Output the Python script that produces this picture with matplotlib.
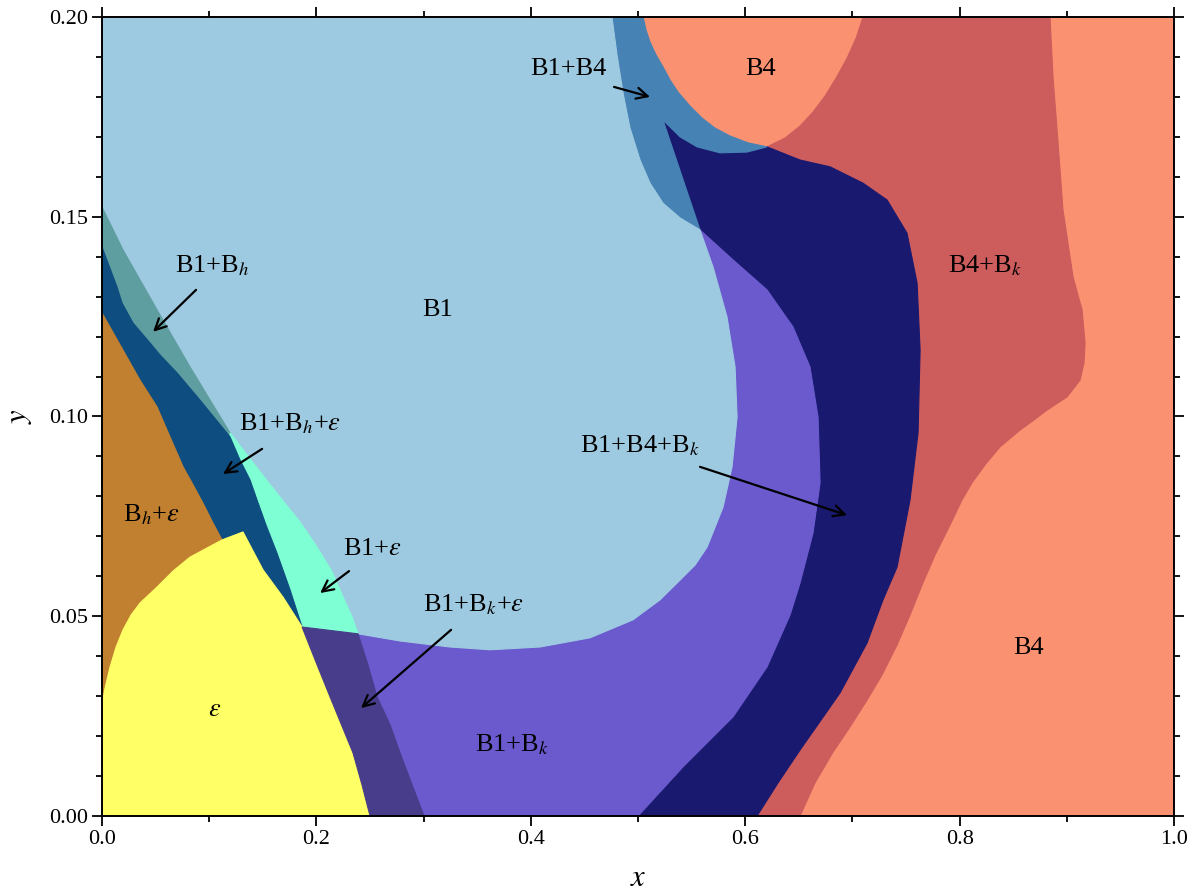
import numpy as np
import matplotlib
matplotlib.use("Agg")
import matplotlib.pyplot as plt

plt.rcParams['font.family'] = 'serif'
plt.rcParams['font.serif'] = ['Liberation Serif', 'DejaVu Serif']
plt.rcParams['mathtext.fontset'] = 'stix'

# phase boundaries (x, y)
# B1 / (B1+Bh, B1+eps) edge
a_x = [0, 0.0196, 0.0513, 0.0821, 0.1194, 0.1446, 0.1660, 0.1847, 0.2006, 0.2146, 0.2248, 0.2332, 0.2388]
a_y = [0.1524, 0.1417, 0.1267, 0.1124, 0.0959, 0.0871, 0.0798, 0.0736, 0.0673, 0.0611, 0.0548, 0.0498, 0.0456]
# upper edge of B1+Bh+eps
b_x = [0, 0.0140, 0.0187, 0.0289, 0.0448, 0.0541, 0.0700, 0.0914, 0.1194, 0.1287, 0.1381, 0.1446, 0.1530, 0.1632, 0.1754, 0.1866]
b_y = [0.1424, 0.1324, 0.1284, 0.1234, 0.1184, 0.1154, 0.1109, 0.1041, 0.0949, 0.0891, 0.0841, 0.0791, 0.0728, 0.0658, 0.0566, 0.0473]
# upper edge of Bh+eps
c_x = [0, 0.0196, 0.0354, 0.0513, 0.0634, 0.0756, 0.0849, 0.0942, 0.1026, 0.1119]
c_y = [0.1259, 0.1166, 0.1091, 0.1024, 0.0949, 0.0874, 0.0829, 0.0783, 0.0738, 0.0691]
# eps boundary
d_x = [0, 0.0028, 0.0075, 0.0131, 0.0196, 0.0271, 0.0354, 0.0513, 0.0662, 0.0821, 0.1119, 0.1315,
       0.1502, 0.1688, 0.1866, 0.1996, 0.2127, 0.2341, 0.2425, 0.2500]
d_y = [0.0280, 0.0320, 0.0373, 0.0423, 0.0466, 0.0503, 0.0533, 0.0573, 0.0613, 0.0648, 0.0691, 0.0711,
       0.0616, 0.0548, 0.0473, 0.0385, 0.0298, 0.0158, 0.0078, 0]
# right edge of B1+Bk+eps
e_x = [0.2388, 0.2481, 0.2565, 0.2687, 0.2780, 0.2892, 0.3004]
e_y = [0.0456, 0.0378, 0.0298, 0.0228, 0.0158, 0.0078, 0]
# B1 / B1+Bk edge
f_x = [0.2388, 0.2780, 0.3246, 0.3619, 0.4086, 0.4552, 0.4953, 0.5205, 0.5364, 0.5532, 0.5644, 0.5793, 0.5877, 0.5924, 0.5905, 0.5830, 0.5700, 0.5578]
f_y = [0.0456, 0.0438, 0.0423, 0.0416, 0.0423, 0.0446, 0.0491, 0.0541, 0.0583, 0.0628, 0.0673, 0.0773, 0.0874, 0.0999, 0.1124, 0.1249, 0.1374, 0.1467]
# B1+Bk / B1+B4+Bk edge
g_x = [0.5578, 0.5886, 0.6203, 0.6446, 0.6604, 0.6679, 0.6698, 0.6632, 0.6511, 0.6418, 0.6203, 0.5886, 0.5420, 0.5000]
g_y = [0.1467, 0.1392, 0.1317, 0.1224, 0.1124, 0.0999, 0.0834, 0.0708, 0.0583, 0.0503, 0.0373, 0.0248, 0.0123, 0]
# top of B1+B4+Bk
h_x = [0.5233, 0.5392, 0.5550, 0.5765, 0.6017, 0.6203]
h_y = [0.1742, 0.1700, 0.1675, 0.1660, 0.1662, 0.1675]
# B1+B4+Bk / B4+Bk edge
k_x = [0.6203, 0.6511, 0.6791, 0.7099, 0.7323, 0.7509, 0.7603, 0.7631, 0.7612, 0.7537, 0.7416, 0.7285, 0.7136, 0.6884, 0.6511, 0.6306, 0.6110]
k_y = [0.1675, 0.1642, 0.1625, 0.1584, 0.1542, 0.1459, 0.1334, 0.1166, 0.0959, 0.0791, 0.0623, 0.0541, 0.0433, 0.0308, 0.0165, 0.0083, 0]
# B1 / B1+B4 edge
i_x = [0.4757, 0.4804, 0.4860, 0.4925, 0.5019, 0.5112, 0.5233, 0.5392, 0.5578]
i_y = [0.2, 0.1905, 0.1810, 0.1722, 0.1642, 0.1584, 0.1534, 0.1497, 0.1467]
# upper B4 pocket
p_x = [0.5047, 0.5075, 0.5112, 0.5168, 0.5233, 0.5299, 0.5373, 0.5485, 0.5597, 0.5718, 0.5858, 0.6026, 0.6203,
       0.6371, 0.6511, 0.6632, 0.6744, 0.6847, 0.6950, 0.7034, 0.7099]
p_y = [0.2, 0.1967, 0.1937, 0.1905, 0.1875, 0.1842, 0.1812, 0.1777, 0.1747, 0.1722, 0.1702, 0.1685, 0.1675,
       0.1697, 0.1727, 0.1762, 0.1802, 0.1847, 0.1897, 0.1947, 0.2]
# B4+Bk / B4 edge
j_x = [0.8843, 0.8871, 0.8918, 0.8964, 0.9058, 0.9142, 0.9170, 0.9160, 0.9123, 0.9002, 0.8815, 0.8657, 0.8563,
       0.8377, 0.8237, 0.8116, 0.8022, 0.7910, 0.7770, 0.7649, 0.7537, 0.7416, 0.7276, 0.7136, 0.6978, 0.6819, 0.6651, 0.6511]
j_y = [0.2, 0.1850, 0.1685, 0.1517, 0.1349, 0.1267, 0.1184, 0.1134, 0.1091, 0.1049, 0.1016, 0.0984, 0.0966,
       0.0924, 0.0879, 0.0834, 0.0791, 0.0728, 0.0653, 0.0578, 0.0503, 0.0428, 0.0353, 0.0290, 0.0223, 0.0160, 0.0083, 0]

colors = {
    'B4': '#fa9272', 'B4+Bk': '#cd5c5c', 'B1+B4+Bk': '#191970', 'B1+B4': '#4682b4',
    'B1': '#9ecae1', 'B1+Bk': '#6a5acd', 'B1+Bh': '#5f9ea0', 'B1+Bh+eps': '#0e4d80',
    'B1+eps': '#7fffd4', 'Bh+eps': '#c08030', 'eps': '#ffff66', 'B1+Bk+eps': '#483d8b',
}

def rev(v):
    return list(v)[::-1]

fig = plt.figure(figsize=(11.99, 8.91), dpi=100)
ax = fig.add_axes([0.0851, 0.0842, 0.8941, 0.8967])
ax.set_facecolor(colors['B4'])

def region(xs, ys, name):
    ax.fill(xs, ys, facecolor=colors[name], edgecolor=colors[name], lw=0.8, zorder=1)

n = 12  # where the pocket touches B1+B4+Bk
ic = d_x.index(0.1119)  # eps meets Bh+eps / B1+Bh+eps
ib = d_x.index(0.1866)  # eps meets B1+Bk+eps
region(p_x[n:] + j_x + rev(k_x), p_y[n:] + j_y + rev(k_y), 'B4+Bk')
region(h_x + k_x + rev(g_x) + [h_x[0]], h_y + k_y + rev(g_y) + [h_y[0]], 'B1+B4+Bk')
region(i_x + h_x + rev(p_x[:n + 1]), i_y + h_y + rev(p_y[:n + 1]), 'B1+B4')
region(g_x + rev(e_x) + rev(f_x)[1:], g_y + rev(e_y) + rev(f_y)[1:], 'B1+Bk')
region([0] + i_x + rev(f_x) + rev(a_x), [0.2] + i_y + rev(f_y) + rev(a_y), 'B1')
region(a_x[:5] + rev(b_x[:9]), a_y[:5] + rev(b_y[:9]), 'B1+Bh')
region(a_x[4:] + rev(b_x[8:]), a_y[4:] + rev(b_y[8:]), 'B1+eps')
region(b_x + rev(d_x[ic:ib + 1]) + rev(c_x), b_y + rev(d_y[ic:ib + 1]) + rev(c_y), 'B1+Bh+eps')
region(c_x + rev(d_x[:ic + 1]), c_y + rev(d_y[:ic + 1]), 'Bh+eps')
region(d_x + [0], d_y + [0], 'eps')
region(d_x[ib:] + rev(e_x), d_y[ib:] + rev(e_y), 'B1+Bk+eps')

ax.set_xlim(0, 1)
ax.set_ylim(0, 0.2)
ax.set_xticks(np.arange(0, 1.01, 0.2))
ax.set_xticks(np.arange(0, 1.01, 0.1), minor=True)
ax.set_yticks(np.arange(0, 0.201, 0.05))
ax.set_yticks(np.arange(0, 0.201, 0.01), minor=True)
ax.xaxis.set_major_formatter(matplotlib.ticker.FormatStrFormatter('%.1f'))
ax.yaxis.set_major_formatter(matplotlib.ticker.FormatStrFormatter('%.2f'))
ax.tick_params(which='both', direction='out', top=True, right=True, labelsize=16, width=1.3)
ax.tick_params(which='major', length=7, pad=3)
ax.tick_params(which='minor', length=4.5)
for s in ax.spines.values():
    s.set_linewidth(1.4)
    s.set_zorder(5)
ax.set_xlabel(r'$x$', fontsize=22, labelpad=11)
ax.set_ylabel(r'$y$', fontsize=22, labelpad=11)

fs = 19
labels = [
    ('B1+B4', 0.4347, 0.1870), ('B4', 0.6147, 0.1870), (r'B1+B$_h$', 0.1026, 0.1377),
    ('B1', 0.3134, 0.1267), (r'B4+B$_k$', 0.8237, 0.1377), (r'B1+B$_h$+$\varepsilon$', 0.1754, 0.0981),
    (r'B1+B4+B$_k$', 0.5019, 0.0926), (r'B$_h$+$\varepsilon$', 0.0457, 0.0753),
    (r'B1+$\varepsilon$', 0.2519, 0.0668), (r'B1+B$_k$+$\varepsilon$', 0.3470, 0.0528),
    (r'$\varepsilon$', 0.1054, 0.0265), (r'B1+B$_k$', 0.3825, 0.0178), ('B4', 0.8638, 0.0421),
]
for t, x, y in labels:
    ax.text(x, y, t, fontsize=fs, ha='center', va='center', zorder=3)

arrows = [
    ((0.4776, 0.1825), (0.5112, 0.1800)),
    ((0.0877, 0.1317), (0.0476, 0.1212)),
    ((0.1493, 0.0919), (0.1129, 0.0856)),
    ((0.5578, 0.0874), (0.6950, 0.0753)),
    ((0.2304, 0.0613), (0.2034, 0.0558)),
    ((0.3256, 0.0466), (0.2416, 0.0270)),
]
for tail, head in arrows:
    ax.annotate('', xy=head, xytext=tail, zorder=3,
                arrowprops=dict(arrowstyle='->', color='k', lw=1.6, mutation_scale=20,
                                shrinkA=0, shrinkB=0))

fig.savefig('out.png', dpi=100)
